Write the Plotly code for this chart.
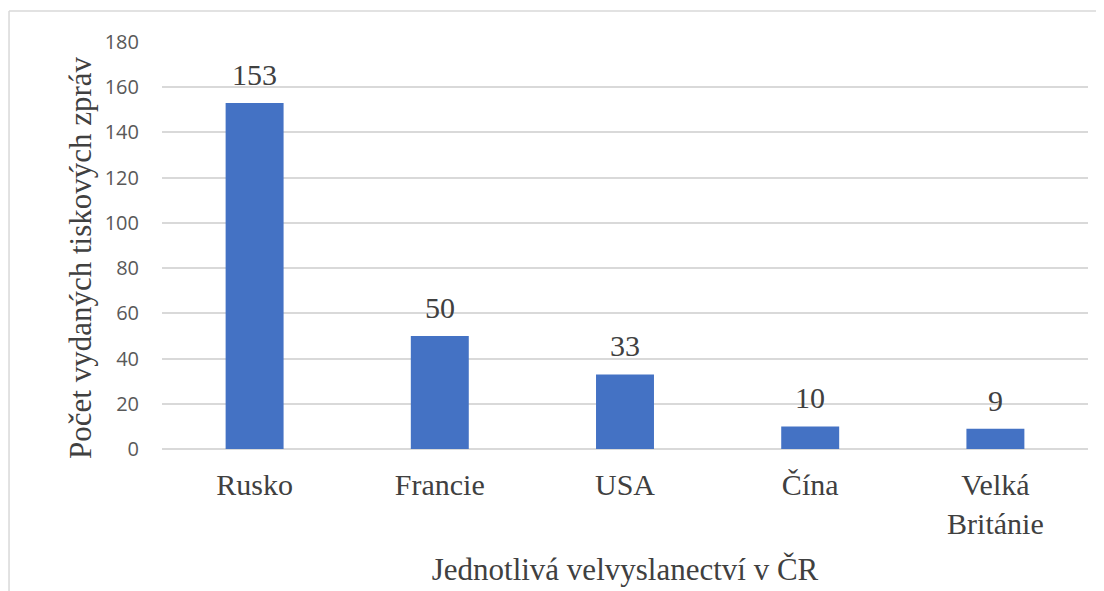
import plotly.graph_objects as go

categories = ["Rusko", "Francie", "USA", "Čína", "Velká<br>Británie"]
values = [153, 50, 33, 10, 9]
y_title = "Počet vydaných tiskových zpráv"
x_title = "Jednotlivá velvyslanectví v ČR"

fig = go.Figure()
fig.add_trace(go.Bar(
    x=categories, y=values,
    marker=dict(color="#4472C4", line=dict(width=0)),
    width=0.313,
    hoverinfo="skip",
))
for c, v in zip(categories, values):
    fig.add_annotation(x=c, y=v, text=str(v), showarrow=False, yanchor="bottom",
                       yshift=10, font=dict(family="Liberation Serif", size=30, color="#404040"))

fig.add_annotation(xref="paper", yref="paper", x=-0.0886, y=0.4717, text=y_title,
                   textangle=-90, showarrow=False, xanchor="center", yanchor="middle",
                   font=dict(family="Liberation Serif", size=31, color="#404040"))

fig.update_layout(
    width=1096, height=583,
    margin=dict(l=154, r=16, t=34, b=142),
    plot_bgcolor="white", paper_bgcolor="white",
    showlegend=False,
    xaxis=dict(
        automargin=False,
        tickfont=dict(family="Liberation Serif", size=30, color="#404040"),
        showgrid=False, showline=False, ticks="", ticklabelstandoff=15,
        title=dict(text=x_title, font=dict(family="Liberation Serif", size=31, color="#404040"), standoff=19),
    ),
    yaxis=dict(
        automargin=False,
        range=[0, 180], dtick=20,
        tickfont=dict(family="Open Sans", size=20, color="#595959"),
        gridcolor="#d9d9d9", gridwidth=1.5,
        zeroline=True, zerolinecolor="#d9d9d9", zerolinewidth=1.5,
        showline=False, ticks="", ticklabelstandoff=22,
    ),
    shapes=[
        dict(type="line", xref="paper", yref="paper", x0=-0.1652, x1=1.1, y0=1.0762, y1=1.0762,
             line=dict(color="#d9d9d9", width=1.5)),
        dict(type="line", xref="paper", yref="paper", x0=-0.1652, x1=-0.1652, y0=-0.4, y1=1.0762,
             line=dict(color="#d9d9d9", width=1.5)),
    ],
)
fig.write_html("out.html")
